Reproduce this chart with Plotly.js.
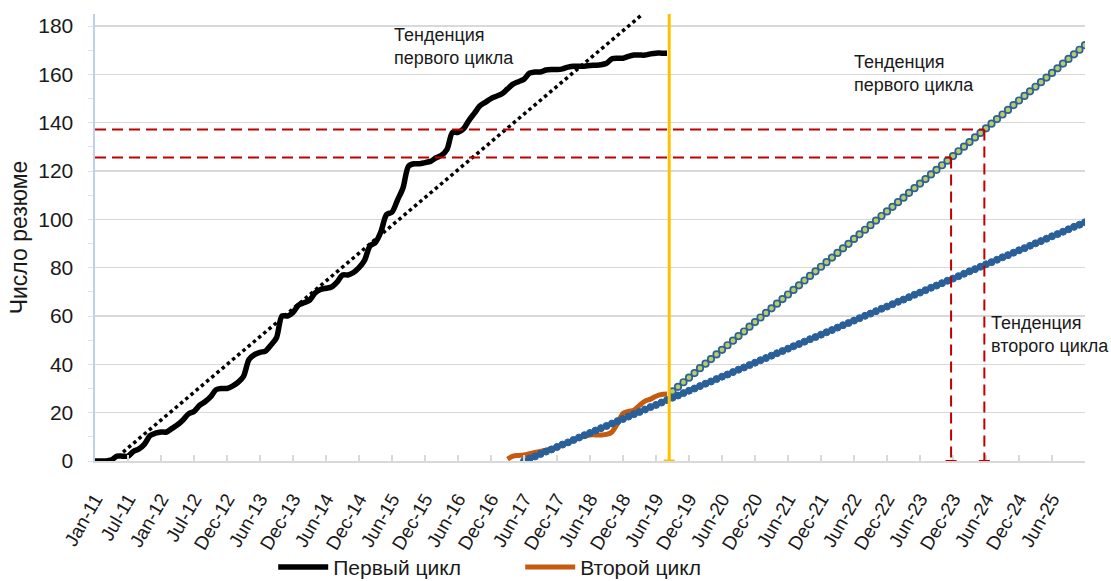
<!DOCTYPE html>
<html>
<head>
<meta charset="utf-8">
<script src="https://cdn.plot.ly/plotly-3.0.1.min.js"></script>
<style>html,body{margin:0;padding:0;background:#fff;}#chart{width:1111px;height:581px;}</style>
</head>
<body>
<div id="chart"></div>
<script>
// Tick labels (one every 6 positions on the time axis)
const tickLabels = ["Jan-11","Jul-11","Jan-12","Jul-12","Dec-12","Jun-13","Dec-13","Jun-14","Dec-14","Jun-15","Dec-15","Jun-16","Dec-16","Jun-17","Dec-17","Jun-18","Dec-18","Jun-19","Dec-19","Jun-20","Dec-20","Jun-21","Dec-21","Jun-22","Dec-22","Jun-23","Dec-23","Jun-24","Dec-24","Jun-25"];

// First cycle (monthly, starting Jan-11)
const firstCycle = [0,0,0,0.5,2,2,2,4,5,7,10.5,11.5,12,12,13.5,15,17,19.5,20.5,23,24.5,26.5,29.5,30,30,31,32.5,35,42,44,45,45.5,48,51,60,60,61.5,64.5,65.5,66.5,69.5,71,71.5,72,74,77,77,78,80,83,89,90.5,95,102,103,108,113,122,123,123,123.5,124,125.5,126.5,129,136,136,137.5,141,144,147,148.5,150,151,152,154,156,157,158,160.5,161,161,161.8,162,162,162.3,163,163.4,163.4,163.4,163.7,163.8,164,164.6,166.5,166.7,166.7,167.5,168,168,168,168.5,168.8,168.8,168.8];

// Second cycle (monthly, starting at position 75)
const secondStart = 75;
const secondCycle = [0.8,2,2.3,2.5,3,3.5,4,4.5,5,5.8,6.6,7.7,8.7,9.5,10.3,10.8,10.8,10.8,11,12,15.5,19.7,20.5,21,23,24.8,25.6,26.8,27.5,27.7];

// First-cycle trend (dotted) endpoints
const trend1X = [5.1, 99.6];
const trend1Y = [3.7, 185];

// Second-cycle trend projection (monthly, from position 78)
const trend2Start = 78;
const trend2 = [0,1.0,1.9,2.9,3.9,4.8,5.8,6.8,7.7,8.7,9.7,10.7,11.6,12.6,13.6,14.5,15.5,16.5,17.4,18.4,
19.4,20.3,21.3,22.3,23.2,24.2,25.2,26.2,27.1,28.1,
29.1,30.0,31.0,32.0,32.9,33.9,34.9,35.8,36.8,37.8,
38.7,39.7,40.7,41.7,42.6,43.6,44.6,45.5,46.5,47.5,
48.4,49.4,50.4,51.3,52.3,53.3,54.2,55.2,56.2,57.1,
58.1,59.1,60.1,61.0,62.0,63.0,63.9,64.9,65.9,66.8,
67.8,68.8,69.7,70.7,71.7,72.6,73.6,74.6,75.5,76.5,
77.5,78.5,79.4,80.4,81.4,82.3,83.3,84.3,85.2,86.2,
87.2,88.1,89.1,90.1,91.0,92.0,93.0,93.9,94.9,95.9,
96.9,97.8,98.8];

// First-cycle-rate projection (monthly, from position 105)
const trend1ProjStart = 105;
const trend1Proj = [28.8,30.7,32.6,34.5,36.4,38.4,40.3,42.2,44.1,46.0,47.9,49.8,51.7,53.6,55.6,57.5,59.4,61.3,63.2,65.1,67.0,68.9,70.8,72.7,74.7,76.6,78.5,80.4,82.3,84.2,86.1,88.0,89.9,91.9,93.8,95.7,97.6,99.5,101.4,103.3,105.2,107.1,109.0,111.0,112.9,114.8,116.7,118.6,120.5,122.4,124.3,126.2,128.2,130.1,132.0,133.9,135.8,137.7,139.6,141.5,143.4,145.3,147.3,149.2,151.1,153.0,154.9,156.8,158.7,160.6,162.5,164.5,166.4,168.3,170.2,172.1];

// Reference levels and the positions where the projection reaches them
const refLevels = [125.6, 137.2];
const refPositions = [155.65, 161.7];

// "Now" marker position
const nowPosition = [104.4];

const FONT = "Liberation Sans, Arial, sans-serif";
const idx = (arr, start) => arr.map((_, i) => start + i);

const traces = [
  {x: trend1X, y: trend1Y, mode: 'lines', showlegend: false, hoverinfo: 'skip',
   line: {color: '#000', width: 3.5, dash: '3.5px,3.3px'}},
  {x: idx(firstCycle, 0), y: firstCycle, mode: 'lines', name: 'Первый цикл',
   line: {color: '#000', width: 5.5, shape: 'spline', smoothing: 0.8}},
  {x: idx(secondCycle, secondStart), y: secondCycle, mode: 'lines', name: 'Второй цикл',
   line: {color: '#c55a11', width: 5, shape: 'spline', smoothing: 0.8}},
  {x: idx(trend1Proj, trend1ProjStart), y: trend1Proj, mode: 'markers', showlegend: false,
   marker: {size: 6.5, color: '#b8cc6a', line: {color: '#2e6196', width: 1.7}}},
  {x: idx(trend2, trend2Start), y: trend2, mode: 'markers', showlegend: false,
   marker: {size: 7, color: '#2a6099', line: {color: '#2a6099', width: 1}}}
];

const shapes = [];
const red = '#c00000';
refLevels.forEach((lv, i) => {
  const p = refPositions[i];
  shapes.push({type: 'line', xref: 'x', yref: 'y', x0: 0, x1: p, y0: lv, y1: lv,
    line: {color: red, width: 2, dash: '11px,6px'}, layer: 'above'});
  shapes.push({type: 'line', xref: 'x', yref: 'y', x0: p, x1: p, y0: lv, y1: 0,
    line: {color: red, width: 2, dash: '11px,6px'}, layer: 'above'});
  shapes.push({type: 'line', xref: 'x', yref: 'y', x0: p - 1, x1: p + 1, y0: 0, y1: 0,
    line: {color: red, width: 2}, layer: 'above'});
});
nowPosition.forEach(p => {
  shapes.push({type: 'line', xref: 'x', yref: 'paper', x0: p, x1: p, y0: 0, y1: 1,
    line: {color: '#ffc000', width: 3}, layer: 'above'});
  shapes.push({type: 'line', xref: 'x', yref: 'y', x0: p - 1, x1: p + 1, y0: 0, y1: 0,
    line: {color: '#ffc000', width: 3}, layer: 'above'});
});

const annFont = {family: FONT, size: 18, color: '#1a1a1a'};
const annotations = [
  {x: 54, y: 171.7, xref: 'x', yref: 'y', text: 'Тенденция<br>первого цикла', showarrow: false,
   xanchor: 'left', yanchor: 'middle', align: 'left', font: annFont},
  {x: 137.6, y: 160.3, xref: 'x', yref: 'y', text: 'Тенденция<br>первого цикла', showarrow: false,
   xanchor: 'left', yanchor: 'middle', align: 'left', font: annFont},
  {x: 162.5, y: 52.3, xref: 'x', yref: 'y', text: 'Тенденция<br>второго цикла', showarrow: false,
   xanchor: 'left', yanchor: 'middle', align: 'left', font: annFont}
];

const layout = {
  width: 1111, height: 581,
  margin: {l: 95, r: 26, t: 14, b: 120, autoexpand: false},
  paper_bgcolor: '#fff', plot_bgcolor: '#fff',
  font: {family: FONT, size: 21, color: '#1a1a1a'},
  showlegend: true,
  legend: {orientation: 'h', x: 0.18, xanchor: 'left', y: -0.238, yanchor: 'middle',
    font: {family: FONT, size: 21, color: '#1a1a1a'}, itemwidth: 50, entrywidth: 182,
    bgcolor: 'rgba(0,0,0,0)'},
  xaxis: {
    range: [0, 180], showgrid: false, zeroline: false, automargin: false,
    tickmode: 'array', tickvals: tickLabels.map((_, i) => i * 6), ticktext: tickLabels,
    tickangle: -60, ticks: 'inside', ticklen: 6, tickcolor: '#d9d9d9', tickwidth: 1.5,
    showline: true, linecolor: '#d9d9d9', linewidth: 1.5, ticklabelstandoff: 18,
    tickfont: {family: FONT, size: 19, color: '#1a1a1a'}
  },
  yaxis: {
    range: [0, 185], dtick: 20, tick0: 0, showgrid: true, gridcolor: '#d9d9d9', gridwidth: 1.3,
    zeroline: false, showline: true, linecolor: '#bcd2ec', linewidth: 2.5, automargin: false,
    ticks: 'outside', ticklen: 5, tickcolor: '#d9e3f0', ticklabelstandoff: 10,
    minor: {dtick: 10, ticks: 'outside', ticklen: 5, tickcolor: '#d9e3f0', showgrid: false},
    tickfont: {family: FONT, size: 21, color: '#1a1a1a'},
    title: {text: 'Число резюме', font: {family: FONT, size: 23, color: '#1a1a1a'}, standoff: 4}
  },
  shapes: shapes,
  annotations: annotations
};

Plotly.newPlot('chart', traces, layout, {displayModeBar: false, staticPlot: true});
</script>
</body>
</html>
